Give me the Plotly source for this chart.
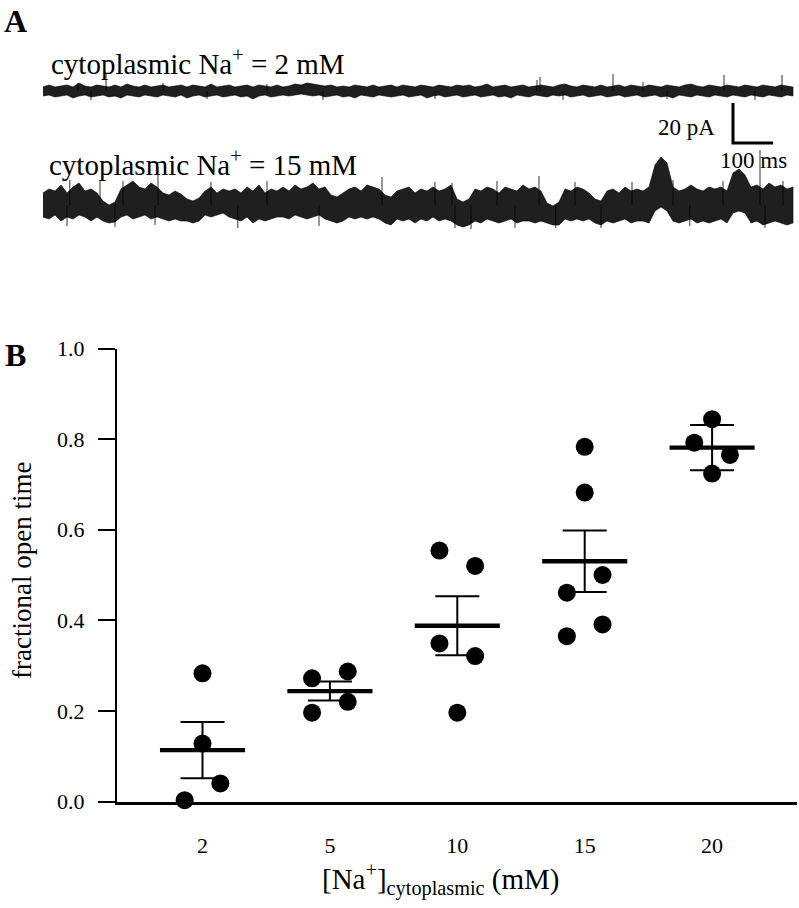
import plotly.graph_objects as go

# ---------------- Panel B data ----------------
categories = ["2", "5", "10", "15", "20"]
points = [
    [0.283, 0.128, 0.040, 0.003],
    [0.272, 0.287, 0.196, 0.220],
    [0.554, 0.520, 0.349, 0.321, 0.196],
    [0.783, 0.682, 0.500, 0.461, 0.391, 0.365],
    [0.844, 0.792, 0.765, 0.724],
]
jitter = [
    [0.0, 0.0, 0.14, -0.14],
    [-0.14, 0.14, -0.14, 0.14],
    [-0.14, 0.14, -0.14, 0.14, 0.0],
    [0.0, 0.0, 0.14, -0.14, 0.14, -0.14],
    [0.0, -0.14, 0.14, 0.0],
]
sem = [0.062, 0.021, 0.065, 0.068, 0.050]
yticks = [0.0, 0.2, 0.4, 0.6, 0.8, 1.0]

# ---------------- Panel A data (read envelopes, pA; columns every 15 ms) ----------------
step_ms = 15
upper_2 = [2, 3, 2, 2.5, 3, 2, 4, 2.5, 2, 3,
           2.5, 2, 3, 2, 3.5, 2.5, 2, 3, 2, 2.5,
           3, 2, 2.5, 3, 2, 3, 2.5, 2, 3.5, 2,
           2.5, 3, 2, 2.5, 3, 2, 3, 2.5, 2, 3,
           2, 2.5, 3.5, 3, 4, 3.5, 3, 2.5, 3, 2,
           2.5, 2, 3, 2.5, 2, 3, 2, 2.5, 3, 2,
           3, 2.5, 2, 3, 2.5, 2, 3, 2.5, 2, 3,
           2.5, 3, 2, 2.5, 3.5, 2, 2.5, 3, 2, 2.5,
           3, 2, 2.5, 3, 2.5, 2, 3, 3.5, 2.5, 2,
           3, 2.5, 2, 3, 2, 2.5, 3, 2, 3, 2.5,
           2, 3, 2.5, 2, 3, 2.5, 2, 3, 3.5, 2.5,
           2, 3, 2.5, 2, 3, 2.5, 2, 3, 2.5, 2,
           3, 2.5, 2, 3, 2.5, 2]
lower_2 = [-2.5, -2, -3, -2.5, -2, -3.5, -2.5, -2, -3, -2.5,
           -2, -3, -2.5, -3.5, -2, -2.5, -3, -2, -2.5, -3,
           -2, -2.5, -3, -2, -3.5, -2.5, -2, -3, -2.5, -2,
           -3, -2.5, -2, -3, -2.5, -4, -2.5, -2, -3, -2.5,
           -2, -2.5, -2, -1.5, -2, -2.5, -2, -3, -2.5, -2,
           -3, -2.5, -3.5, -2, -2.5, -3, -2, -2.5, -3, -2.5,
           -2, -3, -2.5, -2, -3.5, -2.5, -2, -3, -2.5, -2,
           -3, -2.5, -2, -3, -2.5, -2, -3, -2.5, -3.5, -2,
           -2.5, -3, -2, -2.5, -3, -2, -2.5, -2, -3, -2.5,
           -2, -3, -2.5, -2, -3, -2.5, -2, -3, -2.5, -2,
           -3, -2.5, -2, -3, -2.5, -3.5, -2, -2.5, -3, -2,
           -2.5, -3, -2, -2.5, -3, -2, -2.5, -3, -2, -2.5,
           -3, -2, -2.5, -3, -2, -2.5]
spike_t_2 = [87.5, 157.5, 300, 560, 1235, 1242.5, 1425, 1500, 1702.5, 1847.5]
spike_top_2 = [4, 9, 4, 3.5, 5.5, 7, 8.5, 4.5, 8, 8]
dip_t_2 = [120, 410, 700, 980, 1300, 1560, 1780]
dip_bot_2 = [-4.5, -4, -4.5, -4, -4.5, -4, -4.5]

upper_15 = [6, 8, 7, 10, 6, 9, 11, 7, 8, 6,
            2, 0, 1.5,
            8, 10, 12, 9, 8, 11, 9,
            6, 5, 7, 5.5,
            3, 2, 3.5,
            7, 9, 6, 8, 7,
            8, 6, 9, 7, 10, 6, 8, 7,
            9, 7, 10, 8, 9, 11, 8, 9,
            5, 4, 6,
            8, 9, 7, 10, 9, 8,
            5, 4,
            7, 8, 9, 6, 8, 7, 9, 7, 8, 10,
            3, 1.5, 3,
            8, 7, 9, 8, 6, 9, 8, 7, 10, 8, 9, 7,
            1, -0.5, 1.5,
            8, 7, 9, 8, 6,
            3, 2,
            7, 8, 6, 9, 7, 8, 7, 9,
            20, 24, 21,
            9, 7, 8, 10, 8, 7, 9, 8, 9, 7,
            16, 18, 15,
            9, 10, 8, 11, 9, 10, 8, 9]
lower_15 = [-6, -7, -5, -8, -6, -7, -5, -6, -8, -6,
            -8, -9, -8.5,
            -6, -5, -7, -6, -5, -7, -6,
            -7, -8, -7, -8,
            -8, -9, -8,
            -5, -6, -5, -4, -6,
            -7, -8, -6, -9, -7, -8, -7, -6,
            -6, -7, -5, -6, -7, -6, -5, -7,
            -8, -9, -8,
            -6, -7, -6, -7, -6, -7,
            -9, -10,
            -7, -8, -7, -9, -7, -8, -6, -8, -7, -8,
            -10, -11, -10,
            -8, -9, -7, -8, -9, -8, -7, -9, -8, -8, -9, -8,
            -9, -10, -10,
            -7, -8, -7, -8, -7,
            -9, -10,
            -8, -9, -8, -7, -9, -8, -8, -9,
            -3, -1, -3,
            -8, -9, -8, -7, -9, -8, -9, -8, -7, -9,
            -4, -3, -4,
            -9, -8, -10, -9, -8, -9, -10, -9]
spike_t_15 = [67, 142.5, 200, 287.5, 420, 560, 847.5, 980, 1022.5, 1135,
              1240, 1330, 1472.5, 1575, 1700, 1792.5, 1850]
spike_top_15 = [12.5, 12.5, 12, 19, 11.5, 12, 14, 11.5, 11, 12,
                14.5, 11.5, 11.5, 12.5, 12, 27.5, 12]
dip_t_15 = [60, 180, 280, 487, 690, 1030, 1070, 1180, 1282, 1395, 1617, 1805]
dip_bot_15 = [-10.5, -11, -10, -11.5, -10.5, -11.5, -12, -11.5, -11.5, -11.5, -10.5, -11.5]

scale_pa = 20
scale_ms = 100

# ---------------- placement helpers ----------------
W, H = 799, 908
FONT = "Liberation Serif, Times New Roman, serif"


def px(x):
    return x / W


def py(y):
    return 1 - y / H


# Panel A coordinate system: 0.4 px/ms, 2 px/pA
A_TOP, A_BOT = 0, 260
off_2 = (A_BOT - 91) / 2.0
off_15 = (A_BOT - 205) / 2.0

fig = go.Figure()


def add_recording(upper, lower, offset, spikes_t, spikes_top, dips_t, dips_bot):
    t = [i * step_ms for i in range(len(upper))]
    bx = t + t[::-1]
    by = [u + offset for u in upper] + [l + offset for l in lower[::-1]]
    fig.add_trace(go.Scatter(x=bx, y=by, fill="toself", fillcolor="rgba(0,0,0,0.88)",
                             mode="lines", line=dict(color="rgba(0,0,0,0.75)", width=0.8),
                             xaxis="x2", yaxis="y2", hoverinfo="skip", showlegend=False,
                             cliponaxis=False))
    sx, sy = [], []
    for tt, top in zip(spikes_t, spikes_top):
        sx += [tt, tt, None]
        sy += [offset, offset + top, None]
    for tt, bot in zip(dips_t, dips_bot):
        sx += [tt, tt, None]
        sy += [offset, offset + bot, None]
    fig.add_trace(go.Scatter(x=sx, y=sy, mode="lines", line=dict(color="rgba(0,0,0,0.8)", width=1),
                             xaxis="x2", yaxis="y2", hoverinfo="skip", showlegend=False,
                             cliponaxis=False))


add_recording(upper_2, lower_2, off_2, spike_t_2, spike_top_2, dip_t_2, dip_bot_2)
add_recording(upper_15, lower_15, off_15, spike_t_15, spike_top_15, dip_t_15, dip_bot_15)

# scale bar
sb_t0 = 1725
sb_y0 = (A_BOT - 143) / 2.0
fig.add_trace(go.Scatter(x=[sb_t0, sb_t0, sb_t0 + scale_ms], y=[sb_y0 + scale_pa, sb_y0, sb_y0],
                         mode="lines", line=dict(color="black", width=3),
                         xaxis="x2", yaxis="y2", hoverinfo="skip", showlegend=False))

# ---------------- Panel B ----------------
px_pts, py_pts = [], []
for i, (vals, jit) in enumerate(zip(points, jitter)):
    for v, j in zip(vals, jit):
        px_pts.append(i + j)
        py_pts.append(v)

means = [sum(v) / len(v) for v in points]
idx = list(range(len(categories)))

fig.add_trace(go.Scatter(x=idx, y=means, mode="markers", marker=dict(size=1, opacity=0),
                         error_y=dict(type="data", array=sem, visible=True, color="black",
                                      thickness=2, width=22),
                         cliponaxis=False, showlegend=False, hoverinfo="skip"))
mx, my = [], []
for i, m in enumerate(means):
    mx += [i - 0.334, i + 0.334, None]
    my += [m, m, None]
fig.add_trace(go.Scatter(x=mx, y=my, mode="lines", line=dict(color="black", width=4.3),
                         cliponaxis=False, showlegend=False, hoverinfo="skip"))
fig.add_trace(go.Scatter(x=px_pts, y=py_pts, mode="markers",
                         marker=dict(size=18, color="black"),
                         cliponaxis=False, showlegend=False, hoverinfo="skip"))

x0px, spacing = 202.5, 127.4
xl, xr = 117, 797
fig.update_layout(
    template="none",
    width=W, height=H,
    margin=dict(l=0, r=0, t=0, b=0, pad=0, autoexpand=False),
    paper_bgcolor="white", plot_bgcolor="white",
    font=dict(family=FONT, color="black", size=22),
    xaxis=dict(domain=[px(xl), px(xr)],
               range=[(xl - x0px) / spacing, (xr - x0px) / spacing],
               tickvals=idx, ticktext=categories, ticks="",
               showline=True, linewidth=2.5, linecolor="black",
               showgrid=False, zeroline=False, ticklabelstandoff=22, automargin=False,
               tickfont=dict(size=22, family=FONT)),
    yaxis=dict(domain=[py(801.5), py(348.5)], range=[0, 1],
               tickvals=yticks, tickformat=".1f", ticks="outside", ticklen=17,
               tickwidth=2, tickcolor="black",
               showline=True, linewidth=2, linecolor="black",
               showgrid=False, zeroline=False, ticklabelstandoff=9, automargin=False,
               tickfont=dict(size=22, family=FONT)),
    xaxis2=dict(domain=[0, 1], range=[-43 / 0.4, (W - 43) / 0.4],
                visible=False, anchor="y2", fixedrange=True, automargin=False),
    yaxis2=dict(domain=[py(A_BOT), py(A_TOP)], range=[0, (A_BOT - A_TOP) / 2.0],
                visible=False, anchor="x2", fixedrange=True, automargin=False),
)

ann = [
    dict(text="<b>A</b>", x=px(15), y=py(21), size=32, xa="center"),
    dict(text="<b>B</b>", x=px(15), y=py(355), size=32, xa="center"),
    dict(text="cytoplasmic Na<sup>+</sup> = 2 mM", x=px(49), y=py(62), size=29, xa="left"),
    dict(text="cytoplasmic Na<sup>+</sup> = 15 mM", x=px(47), y=py(163), size=29, xa="left"),
    dict(text="20 pA", x=px(717), y=py(127), size=23, xa="right"),
    dict(text="100 ms", x=px(753), y=py(160), size=23, xa="center"),
    dict(text="[Na<sup>+</sup>]<sub>cytoplasmic</sub> (mM)", x=px(441), y=py(879), size=29, xa="center"),
]
for a in ann:
    fig.add_annotation(text=a["text"], x=a["x"], y=a["y"], xref="paper", yref="paper",
                       xanchor=a["xa"], yanchor="middle", showarrow=False,
                       font=dict(family=FONT, size=a["size"], color="black"))
fig.add_annotation(text="fractional open time", x=px(22), y=py(571), xref="paper", yref="paper",
                   textangle=-90, showarrow=False, xanchor="center", yanchor="middle",
                   font=dict(family=FONT, size=27, color="black"))

fig.write_html("out.html", config={"displayModeBar": False},
               post_script="document.body.style.margin='0';")
